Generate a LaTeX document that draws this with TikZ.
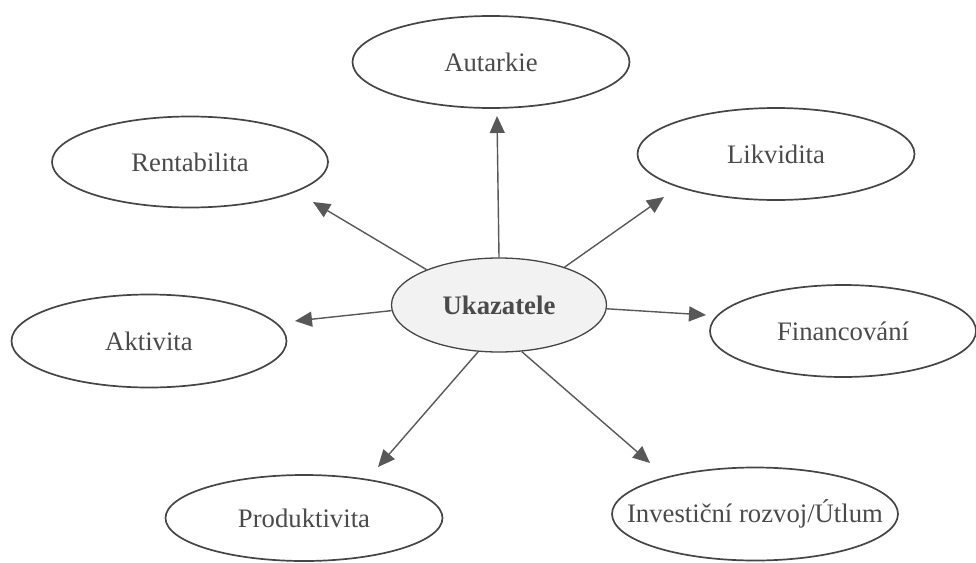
\documentclass[tikz,border=0pt]{standalone}
\usepackage{fontspec}
\setmainfont{Liberation Serif}
\usetikzlibrary{shapes.geometric,arrows.meta}
\definecolor{linec}{HTML}{454545}
\definecolor{textc}{HTML}{4A4A4A}
\begin{document}
\begin{tikzpicture}[x=1pt,y=-1pt,
  ell/.style={ellipse,draw=linec,line width=1.7pt,inner sep=0pt,
    minimum width=277pt,minimum height=92pt,text=textc,
    font=\fontsize{26.7}{32}\selectfont},
  arr/.style={draw=linec!90,line width=1.4pt,-{Triangle[length=17pt,width=15pt]}}]
\useasboundingbox (0,0) rectangle (976,562);
\node[ell,minimum width=215pt,minimum height=94pt,fill=black!5,line width=1.3pt,
  font=\fontsize{26.7}{32}\selectfont\bfseries] (u) at (499,305) {\makebox[0pt]{Ukazatele}};
\node[ell] (aut) at (491,62) {\makebox[0pt]{Autarkie}};
\node[ell,minimum width=276pt,minimum height=91pt] (ren) at (190,162) {\makebox[0pt]{Rentabilita}};
\node[ell] (lik) at (776,154) {\makebox[0pt]{Likvidita}};
\node[ell,minimum width=275pt,minimum height=93pt] (akt) at (149,341) {\makebox[0pt]{Aktivita}};
\node[ell,minimum width=266pt] (fin) at (843,331) {\makebox[0pt]{Financování}};
\node[ell,minimum height=86pt] (pro) at (304,518) {\makebox[0pt]{Produktivita}};
\node[ell,minimum width=286pt,minimum height=93pt] (inv) at (755,514) {\makebox[0pt]{Investiční rozvoj/Útlum}};
\coordinate (tAut) at (497,116);
\coordinate (tRen) at (313,202);
\coordinate (tLik) at (664,197);
\coordinate (tAkt) at (295,321);
\coordinate (tFin) at (706,315);
\coordinate (tPro) at (378,467);
\coordinate (tInv) at (650,463);
\draw[arr] (u.90) -- (tAut);
\draw[arr] (u.154) -- (tRen);
\draw[arr] (u.30) -- (tLik);
\draw[arr] (u.183) -- (tAkt);
\draw[arr] (u.-2) -- (tFin);
\draw[arr] (u.-114) -- (tPro);
\draw[arr] (u.-64) -- (tInv);
\end{tikzpicture}
\end{document}
